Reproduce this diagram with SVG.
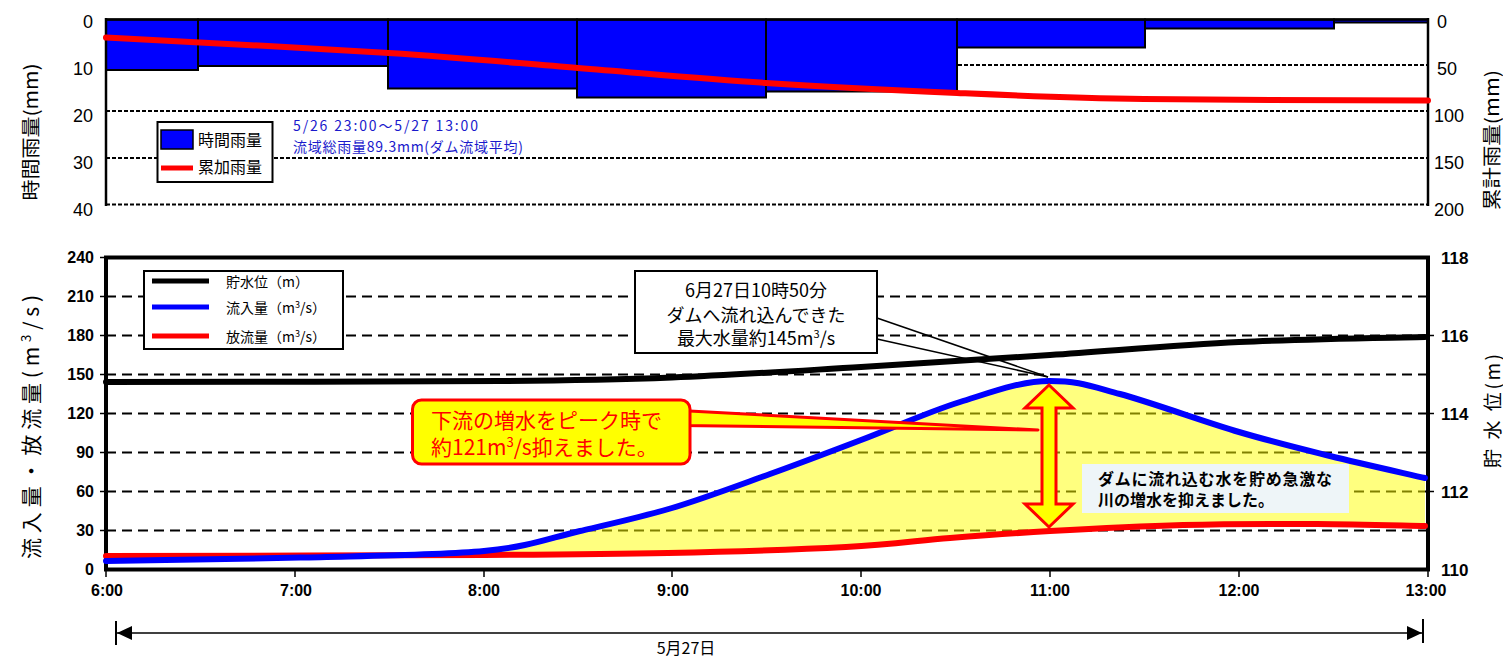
<svg xmlns="http://www.w3.org/2000/svg" width="1503" height="657" viewBox="0 0 1503 657">
<style>
text{font-family:"Liberation Sans","Noto Sans CJK JP",sans-serif;}
.jp{font-family:"Noto Sans CJK JP","Liberation Sans",sans-serif;}
.tk{font-size:18px;fill:#000;}
.tkb{font-size:16px;font-weight:bold;fill:#000;}
.tkr{font-size:17px;font-weight:bold;fill:#000;}
.grid1{stroke:#000;stroke-width:2;stroke-dasharray:4 2;fill:none;}
.grid2{stroke:#000;stroke-width:2;stroke-dasharray:10 6;fill:none;}
.bar{fill:#0000FF;stroke:#000;stroke-width:2;}
.ax{stroke:#000;fill:none;}
.curve{fill:none;stroke-width:6;stroke-linejoin:round;stroke-linecap:round;}
</style>

<!-- ===== Top chart: rainfall ===== -->
<g id="top-grid">
<line class="grid1" x1="106" y1="65" x2="1428" y2="65"/>
<line class="grid1" x1="106" y1="111" x2="1428" y2="111"/>
<line class="grid1" x1="106" y1="158" x2="1428" y2="158"/>
<line class="grid1" x1="106" y1="204.5" x2="1428" y2="204.5"/>
</g>
<g id="top-bars">
<rect class="bar" x="106" y="19.5" width="92" height="50.5"/>
<rect class="bar" x="198" y="19.5" width="190" height="46.5"/>
<rect class="bar" x="388" y="19.5" width="189" height="69"/>
<rect class="bar" x="577" y="19.5" width="189" height="78"/>
<rect class="bar" x="766" y="19.5" width="191" height="72"/>
<rect class="bar" x="957" y="19.5" width="188" height="28"/>
<rect class="bar" x="1145" y="19.5" width="189" height="9"/>
<rect class="bar" x="1334" y="19.5" width="94" height="3"/>
</g>
<g id="top-axes">
<line class="ax" stroke-width="2.5" x1="106" y1="19.5" x2="1428" y2="19.5"/>
<line class="ax" stroke-width="2.5" x1="106" y1="18" x2="106" y2="206"/>
<line class="ax" stroke-width="2.5" x1="1428" y1="18" x2="1428" y2="206"/>
</g>
<g id="top-cumulative">
<path class="curve" stroke="#FF0000" d="M106,37.5 C153.2,40.1 310.3,47.9 389,53 C467.7,58.1 515.2,63 578,68 C640.8,73 702.8,78.8 766,83 C829.2,87.2 894,90.3 957,93 C1020,95.7 1065.5,97.75 1144,99 C1222.5,100.25 1380.7,100.25 1428,100.5"/>
</g>
<g id="top-labels">
<text class="tk" x="93" y="28" text-anchor="end">0</text>
<text class="tk" x="93" y="75" text-anchor="end">10</text>
<text class="tk" x="93" y="122" text-anchor="end">20</text>
<text class="tk" x="93" y="169" text-anchor="end">30</text>
<text class="tk" x="93" y="216" text-anchor="end">40</text>
<text class="tk" x="1437" y="28">0</text>
<text class="tk" x="1437" y="75">50</text>
<text class="tk" x="1434" y="122">100</text>
<text class="tk" x="1434" y="169">150</text>
<text class="tk" x="1434" y="216">200</text>
<text class="jp" font-size="19" transform="translate(38,132) rotate(-90)" text-anchor="middle" textLength="137" lengthAdjust="spacingAndGlyphs">時間雨量(mm)</text>
<text class="jp" font-size="19" transform="translate(1499,140) rotate(-90)" text-anchor="middle" textLength="140" lengthAdjust="spacingAndGlyphs">累計雨量(mm)</text>
</g>
<g id="top-legend">
<rect x="157.5" y="122" width="115" height="60" fill="#fff" stroke="#000" stroke-width="2"/>
<rect x="161" y="130" width="32" height="19" fill="#0000FF" stroke="#000" stroke-width="1.5"/>
<line x1="161" y1="168" x2="193" y2="168" stroke="#FF0000" stroke-width="5"/>
<text class="jp" font-size="16" x="198" y="146">時間雨量</text>
<text class="jp" font-size="16" x="198" y="173">累加雨量</text>
</g>
<g id="top-note">
<text class="jp" font-size="14" fill="#1a1acc" x="293" y="131" textLength="185" lengthAdjust="spacing">5/26  23:00～5/27  13:00</text>
<text class="jp" font-size="14" fill="#1a1acc" x="293" y="152" textLength="230" lengthAdjust="spacing">流域総雨量89.3mm(ダム流域平均)</text>
</g>

<!-- ===== Bottom chart: flows ===== -->
<g id="bottom-grid">
<line class="grid2" x1="106" y1="296.5" x2="1428" y2="296.5"/>
<line class="grid2" x1="106" y1="335.5" x2="1428" y2="335.5"/>
<line class="grid2" x1="106" y1="374.5" x2="1428" y2="374.5"/>
<line class="grid2" x1="106" y1="413.5" x2="1428" y2="413.5"/>
<line class="grid2" x1="106" y1="452.5" x2="1428" y2="452.5"/>
<line class="grid2" x1="106" y1="491.5" x2="1428" y2="491.5"/>
<line class="grid2" x1="106" y1="530.5" x2="1428" y2="530.5"/>
</g>
<g id="storage-fill">
<path fill="#FFFF00" fill-opacity="0.5" d="M450,554.5 L484,551 C530.7,546.6 548.7,538.2 580,531 C611.3,523.8 640.3,517.5 672,508 C703.7,498.5 738.5,485.3 770,474 C801.5,462.7 829.3,452 861,440 C892.7,428 928.5,411.8 960,402 C991.5,392.2 1020,381 1050,381 C1078,381 1088.5,385.5 1120,394 C1151.5,402.5 1204,421.7 1239,432 C1274,442.3 1299,448.3 1330,456 C1361,463.7 1409.2,474.3 1425,478 L1425,526 C1407,525.7 1357.3,524.2 1317,524 C1276.7,523.8 1227.5,523.8 1183,525 C1138.5,526.2 1088.8,528.8 1050,531 C1011.2,533.2 984,535.3 950,538 C916,540.7 893,544.5 846,547 C799,549.5 728.3,551.7 668,553 C607.7,554.3 577.7,554.5 484,555 L450,555.2 Z"/>
</g>
<g id="bottom-frame">
<rect x="106" y="257.5" width="1322" height="312" fill="none" stroke="#000" stroke-width="4"/>
<g stroke="#000" stroke-width="1.5">
<line x1="100" y1="257.5" x2="106" y2="257.5"/><line x1="100" y1="296.5" x2="106" y2="296.5"/><line x1="100" y1="335.5" x2="106" y2="335.5"/><line x1="100" y1="374.5" x2="106" y2="374.5"/><line x1="100" y1="413.5" x2="106" y2="413.5"/><line x1="100" y1="452.5" x2="106" y2="452.5"/><line x1="100" y1="491.5" x2="106" y2="491.5"/><line x1="100" y1="530.5" x2="106" y2="530.5"/>
<line x1="1428" y1="335.5" x2="1434" y2="335.5"/><line x1="1428" y1="413.5" x2="1434" y2="413.5"/><line x1="1428" y1="491.5" x2="1434" y2="491.5"/>
<line x1="106" y1="570" x2="106" y2="577"/><line x1="295" y1="570" x2="295" y2="577"/><line x1="484" y1="570" x2="484" y2="577"/><line x1="672" y1="570" x2="672" y2="577"/><line x1="861" y1="570" x2="861" y2="577"/><line x1="1050" y1="570" x2="1050" y2="577"/><line x1="1239" y1="570" x2="1239" y2="577"/><line x1="1428" y1="570" x2="1428" y2="577"/>
</g>
</g>
<g id="series">
<path id="level" class="curve" stroke="#000" d="M106,382 C171.7,381.8 405.7,381.75 500,381 C594.3,380.3 611.8,379.8 672,377.5 C732.2,375.2 798,370.75 861,367 C924,363.25 987,359.2 1050,355 C1113,350.8 1176.5,345 1239,342 C1301.5,339 1394,337.8 1425,337"/>
<path id="outflow" class="curve" stroke="#FF0000" d="M106,556 C169,555.8 390.3,555.5 484,555 C577.7,554.5 607.7,554.3 668,553 C728.3,551.7 799,549.5 846,547 C893,544.5 916,540.7 950,538 C984,535.3 1011.2,533.2 1050,531 C1088.8,528.8 1138.5,526.2 1183,525 C1227.5,523.8 1276.7,523.8 1317,524 C1357.3,524.2 1407,525.7 1425,526"/>
<path id="inflow" class="curve" stroke="#0000FF" d="M106,561 C138.3,560.4 237,559.2 300,557.5 C363,555.8 437.3,555.4 484,551 C530.7,546.6 548.7,538.2 580,531 C611.3,523.8 640.3,517.5 672,508 C703.7,498.5 738.5,485.3 770,474 C801.5,462.7 829.3,452 861,440 C892.7,428 928.5,411.8 960,402 C991.5,392.2 1020,381 1050,381 C1078,381 1088.5,385.5 1120,394 C1151.5,402.5 1204,421.7 1239,432 C1274,442.3 1299,448.3 1330,456 C1361,463.7 1409.2,474.3 1425,478"/>
</g>
<g id="bottom-labels">
<text class="tkb" x="94" y="263" text-anchor="end">240</text>
<text class="tkb" x="94" y="302" text-anchor="end">210</text>
<text class="tkb" x="94" y="341" text-anchor="end">180</text>
<text class="tkb" x="94" y="380" text-anchor="end">150</text>
<text class="tkb" x="94" y="419" text-anchor="end">120</text>
<text class="tkb" x="94" y="458" text-anchor="end">90</text>
<text class="tkb" x="94" y="497" text-anchor="end">60</text>
<text class="tkb" x="94" y="536" text-anchor="end">30</text>
<text class="tkb" x="94" y="575" text-anchor="end">0</text>
<text class="tkr" x="1441" y="263.5">118</text>
<text class="tkr" x="1441" y="341.5">116</text>
<text class="tkr" x="1441" y="419.5">114</text>
<text class="tkr" x="1441" y="497.5">112</text>
<text class="tkr" x="1441" y="575.5">110</text>
<text class="tkb" x="107" y="596" text-anchor="middle">6:00</text>
<text class="tkb" x="296" y="596" text-anchor="middle">7:00</text>
<text class="tkb" x="484" y="596" text-anchor="middle">8:00</text>
<text class="tkb" x="673" y="596" text-anchor="middle">9:00</text>
<text class="tkb" x="861" y="596" text-anchor="middle">10:00</text>
<text class="tkb" x="1050" y="596" text-anchor="middle">11:00</text>
<text class="tkb" x="1239" y="596" text-anchor="middle">12:00</text>
<text class="tkb" x="1426" y="596" text-anchor="middle">13:00</text>
<text class="jp" font-size="21" transform="translate(39,427) rotate(-90)" text-anchor="middle" textLength="264" lengthAdjust="spacing">流入量・放流量(m<tspan font-size="13" dy="-8">3</tspan><tspan dy="8">/s)</tspan></text>
<text class="jp" font-size="19" transform="translate(1500,411) rotate(-90)" text-anchor="middle" textLength="114" lengthAdjust="spacing">貯 水 位(m)</text>
</g>
<g id="bottom-legend">
<rect x="144" y="271" width="199" height="78" fill="#fff" stroke="#000" stroke-width="2"/>
<line x1="152" y1="281" x2="209" y2="281" stroke="#000" stroke-width="5"/>
<line x1="152" y1="307" x2="209" y2="307" stroke="#0000FF" stroke-width="5"/>
<line x1="152" y1="336" x2="209" y2="336" stroke="#FF0000" stroke-width="5"/>
<text class="jp" font-size="14" x="226" y="287">貯水位（m）</text>
<text class="jp" font-size="14" x="226" y="313">流入量（m<tspan font-size="9" dy="-5">3</tspan><tspan dy="5">/s）</tspan></text>
<text class="jp" font-size="14" x="226" y="342">放流量（m<tspan font-size="9" dy="-5">3</tspan><tspan dy="5">/s）</tspan></text>
</g>
<g id="peak-callout">
<line x1="877" y1="318" x2="1048" y2="377" stroke="#000" stroke-width="1.5"/>
<line x1="877" y1="339" x2="1048" y2="377" stroke="#000" stroke-width="1.5"/>
<rect x="635" y="271" width="242" height="82" fill="#fff" stroke="#000" stroke-width="2"/>
<text class="jp" font-size="18" x="756" y="297" text-anchor="middle">6月27日10時50分</text>
<text class="jp" font-size="18" x="756" y="322" text-anchor="middle">ダムへ流れ込んできた</text>
<text class="jp" font-size="18" x="756" y="345" text-anchor="middle">最大水量約145m<tspan font-size="11" dy="-7">3</tspan><tspan dy="7">/s</tspan></text>
</g>
<g id="cut-arrow">
<path d="M1049,385 L1073,408 L1056,408 L1056,504 L1073,504 L1049,527 L1025,504 L1042,504 L1042,408 L1025,408 Z" fill="#FFFF00" stroke="#FF0000" stroke-width="3" stroke-linejoin="miter"/>
</g>
<g id="cut-callout">
<path d="M680,410.5 L1038,430 L680,425.5 Z" fill="#FFFF00" stroke="#FF0000" stroke-width="3" stroke-linejoin="round"/>
<rect x="412.5" y="400" width="277.5" height="64" rx="9" fill="#FFFF00" stroke="#FF0000" stroke-width="3"/>
<text class="jp" font-size="21" fill="#FF0000" x="431" y="428">下流の増水をピーク時で</text>
<text class="jp" font-size="21" fill="#FF0000" x="431" y="455">約121m<tspan font-size="13" dy="-8">3</tspan><tspan dy="8">/s抑えました。</tspan></text>
</g>
<g id="storage-note">
<rect x="1082" y="464" width="267" height="49" fill="#EEF5F8"/>
<text class="jp" font-size="16" font-weight="bold" x="1098" y="485" textLength="234" lengthAdjust="spacing">ダムに流れ込む水を貯め急激な</text>
<text class="jp" font-size="16" font-weight="bold" x="1098" y="506">川の増水を抑えました。</text>
</g>
<g id="date-span">
<line x1="116" y1="621" x2="116" y2="645" stroke="#000" stroke-width="2"/>
<line x1="1423" y1="619" x2="1423" y2="643" stroke="#000" stroke-width="2"/>
<line x1="117" y1="633" x2="1422" y2="633" stroke="#000" stroke-width="1.5"/>
<path d="M117,633 L132,626 L132,640 Z" fill="#000"/>
<path d="M1422,633 L1407,626 L1407,640 Z" fill="#000"/>
<text class="jp" font-size="16" x="686" y="654" text-anchor="middle">5月27日</text>
</g>
</svg>
